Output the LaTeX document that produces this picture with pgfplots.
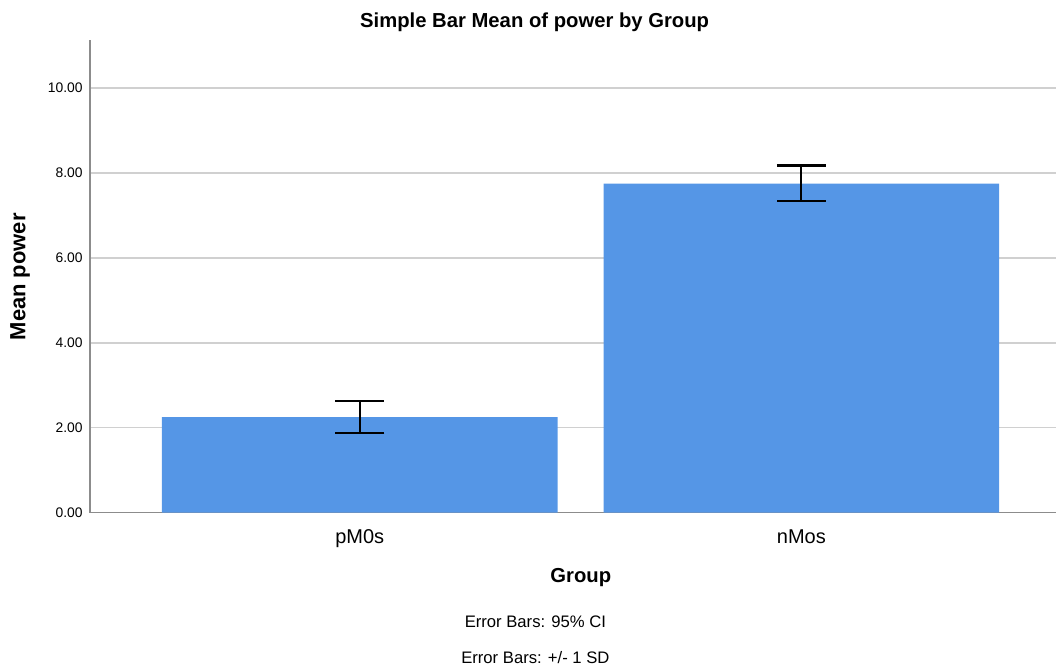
\documentclass[border=0pt]{standalone}
\usepackage{pgfplots}
\pgfplotsset{compat=1.18}
\usepackage{fontspec}
\setmainfont{Liberation Sans}
\definecolor{barblue}{HTML}{5596E6}
\definecolor{gridgray}{HTML}{D0D0D0}
\definecolor{axisgray}{HTML}{8C8C8C}
\begin{document}
\begin{tikzpicture}
\begin{axis}[
  scale only axis,
  width=725.25pt, height=354.75pt,
  xmin=-0.611, xmax=1.577,
  ymin=0, ymax=11.13,
  axis lines=left,
  axis line style={axisgray, line width=1.2pt, -},
  xtick={0,1}, xticklabels={pM0s,nMos},
  ytick={0,2,4,6,8,10},
  major tick length=0pt,
  ymajorgrids, grid style={gridgray, line width=1.2pt},
  /pgf/number format/assume math mode=true,
  yticklabel style={/pgf/number format/.cd, fixed, fixed zerofill, precision=2, /tikz/.cd, font=\fontsize{10.4}{12}\selectfont, xshift=-2pt},
  xticklabel style={font=\fontsize{15}{18}\selectfont, yshift=-9pt},
  clip=false,
]
\addplot[ybar, bar width=0.896, fill=barblue, draw=none,
  error bars/.cd, y dir=both, y explicit,
  error bar style={draw=black, line width=1.6pt},
  error mark options={draw=black, line width=1.6pt, mark size=18.4pt, rotate=90}]
  coordinates {(0,2.248) += (0,0.39) -= (0,0.369)
               (1,7.745) += (0,0.43) -= (0,0.416)};
\node[font=\bfseries\fontsize{15.2}{18}\selectfont] at (axis description cs:0.4602,1.0381) {Simple Bar Mean of power by Group};
\node[font=\bfseries\fontsize{16.5}{20}\selectfont, rotate=90] at (axis description cs:-0.0724,0.499) {Mean power};
\node[font=\bfseries\fontsize{15.2}{18}\selectfont] at (axis description cs:0.508,-0.137) {Group};
\node[font=\fontsize{12.5}{15}\selectfont] at (axis description cs:0.461,-0.230) {Error Bars: 95\% CI};
\node[font=\fontsize{12.5}{15}\selectfont] at (axis description cs:0.461,-0.307) {Error Bars: +/- 1 SD};
\path[use as bounding box] (axis description cs:-0.0931,-0.3214) rectangle (axis description cs:1,1.0846);
\end{axis}
\end{tikzpicture}
\end{document}
